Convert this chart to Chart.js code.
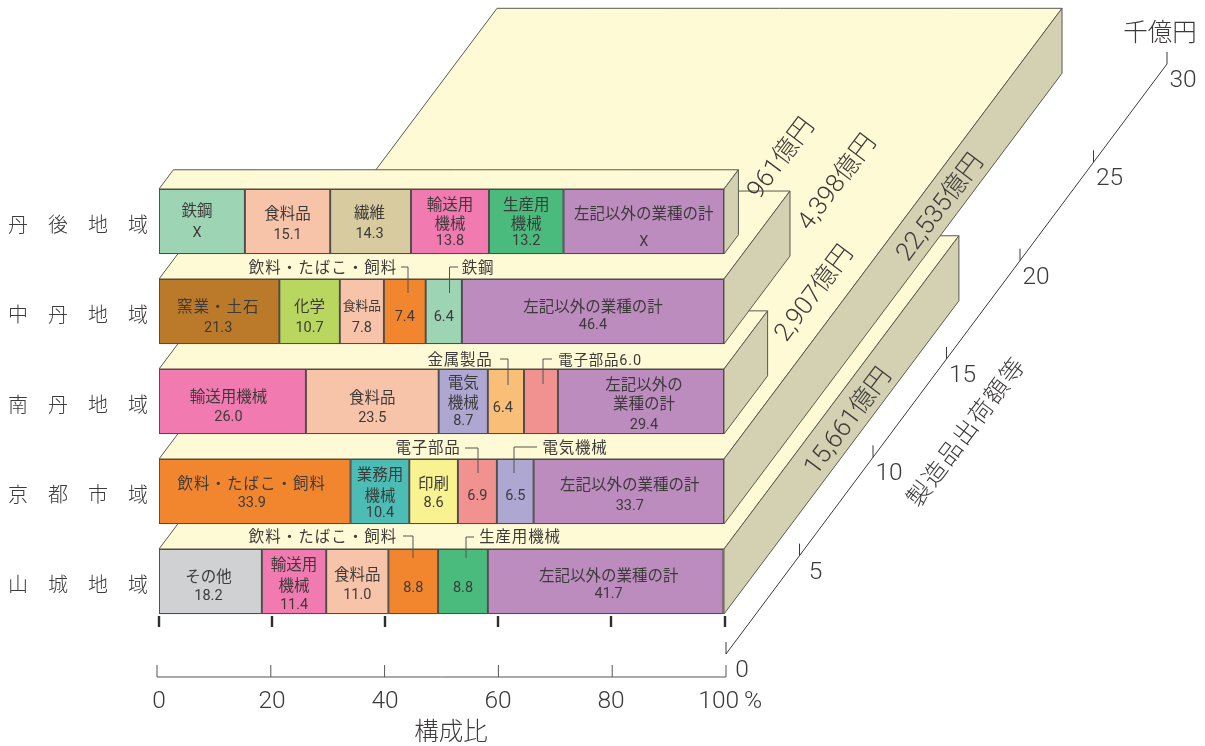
<!DOCTYPE html>
<html><head><meta charset="utf-8">
<style>html,body{margin:0;padding:0;background:#fff}canvas{display:block}</style>
<script src="https://cdn.jsdelivr.net/npm/chart.js@4"></script>
</head><body><canvas id="c" width="1205" height="746"></canvas>
<script>
const regions=['丹　後　地　域','中　丹　地　域','南　丹　地　域','京　都　市　域','山　城　地　域'];
const xTickValues=[0,20,40,60,80,100];
const depthTickValues=[0,5,10,15,20,25,30];
const shipments=[961,4398,2907,22535,15661];
const shipmentLabels=['961億円','4,398億円','2,907億円','22,535億円','15,661億円'];

const tangoNames=['鉄鋼','食料品','繊維','輸送用機械','生産用機械','左記以外'];
const tangoValues=[15.2,15.1,14.3,13.8,13.2,28.4];
const chutanNames=['窯業・土石','化学','食料品','飲料','鉄鋼','左記以外'];
const chutanValues=[21.3,10.7,7.8,7.4,6.4,46.4];
const nantanNames=['輸送用機械','食料品','電気機械','金属製品','電子部品','左記以外'];
const nantanValues=[26.0,23.5,8.7,6.4,6.0,29.4];
const kyotoNames=['飲料','業務用機械','印刷','電子部品','電気機械','左記以外'];
const kyotoValues=[33.9,10.4,8.6,6.9,6.5,33.7];
const yamashiroNames=['その他','輸送用機械','食料品','飲料','生産用機械','左記以外'];
const yamashiroValues=[18.2,11.4,11.0,8.8,8.8,41.7];

const tangoText=[['鉄鋼','X'],['食料品','15.1'],['繊維','14.3'],['輸送用','機械','13.8'],['生産用','機械','13.2'],['左記以外の業種の計','X']];
const chutanText=[['窯業・土石','21.3'],['化学','10.7'],['食料品','7.8'],['7.4'],['6.4'],['左記以外の業種の計','46.4']];
const nantanText=[['輸送用機械','26.0'],['食料品','23.5'],['電気','機械','8.7'],['6.4'],[],['左記以外の','業種の計','29.4']];
const kyotoText=[['飲料・たばこ・飼料','33.9'],['業務用','機械','10.4'],['印刷','8.6'],['6.9'],['6.5'],['左記以外の業種の計','33.7']];
const yamashiroText=[['その他','18.2'],['輸送用','機械','11.4'],['食料品','11.0'],['8.8'],['8.8'],['左記以外の業種の計','41.7']];

// presentation only, kept apart from the data
const colours={'鉄鋼':'#9dd4b4','食料品':'#f7c4aa','繊維':'#d8cba0','輸送用機械':'#f17ab0','生産用機械':'#4aba7d','左記以外':'#bc8cbf','窯業・土石':'#bb7a2a','化学':'#b9d75e','飲料':'#f2862f','金属製品':'#f9bf78','電子部品':'#f29290','電気機械':'#aea7d2','業務用機械':'#4cbdb4','印刷':'#f8f291','その他':'#cfd1d3'};
const textYOffsets=[
 [[21,42],[24,44],[23,43],[15,34,50],[15,34,50],[24,51]],
 [[27,47],[27,47],[26,47],[36],[36],[27,44]],
 [[27,46],[28,47],[13,33,50],[37],[],[15,34,54]],
 [[24,42],[15,36,52],[24,42],[35],[35],[25,45]],
 [[27,45],[15,36,54],[25,44],[37],[37],[26,43]]];
const textDx=[[-5,0,-1,0,0,0],[-1,0,0,0,0,0],[-4,0,0,-3,0,3],[-3,0,0,0,0,1],[-2,0,0,0,0,3]];
const callouts=[
 {t:'飲料・たばこ・飼料',tx:323,ty:267,path:[[401,267],[408,267],[408,293]]},
 {t:'鉄鋼',tx:478,ty:267,path:[[458,267],[449.5,267],[449.5,293]]},
 {t:'金属製品',tx:460,ty:359,path:[[500,359],[508,359],[508,385]]},
 {t:'電子部品6.0',tx:600,ty:359,path:[[552,359],[543,359],[543,384]]},
 {t:'電子部品',tx:428,ty:447,path:[[465,448],[478,448],[478,473]]},
 {t:'電気機械',tx:575,ty:447,path:[[537,447],[514,447],[514,473]]},
 {t:'飲料・たばこ・飼料',tx:323,ty:536,path:[[403,536],[413,536],[413,558]]},
 {t:'生産用機械',tx:520,ty:536,path:[[474,537],[466,537],[466,558]]}];
const shipmentLabelPos=[[782,157],[838,181],[815,292],[941,206],[849,420]];
const FONT='Roboto,"Noto Sans CJK JP","Noto Sans",sans-serif';
const TOP='#fffad6',SIDE='#d3d1b2',EDGE='#5a5a50',INK='#3d3a3a';
const BASELINE_NUDGE=2;

const allNames=[tangoNames,chutanNames,nantanNames,kyotoNames,yamashiroNames];
const allValues=[tangoValues,chutanValues,nantanValues,kyotoValues,yamashiroValues];
const allText=[tangoText,chutanText,nantanText,kyotoText,yamashiroText];
const datasets=[0,1,2,3,4,5].map(i=>({
  label:'区分'+(i+1),
  data:allValues.map(r=>r[i]),
  backgroundColor:allNames.map(r=>colours[r[i]]),
  borderColor:'#4f4c4c',borderWidth:1.3,borderSkipped:false,barThickness:65,stack:'s'
}));

function poly(ctx,pts,fill,stroke){
  ctx.beginPath();pts.forEach((p,i)=>i?ctx.lineTo(p[0],p[1]):ctx.moveTo(p[0],p[1]));ctx.closePath();
  ctx.fillStyle=fill;ctx.fill();ctx.strokeStyle=stroke;ctx.lineWidth=1;ctx.stroke();
}
function text(ctx,s,x,y,size,opts){
  opts=opts||{};ctx.save();ctx.translate(x,y+BASELINE_NUDGE);if(opts.rot)ctx.rotate(opts.rot);
  ctx.font=(opts.weight||300)+' '+size+'px '+FONT;ctx.fillStyle=opts.color||INK;ctx.textAlign=opts.align||'center';ctx.textBaseline='middle';
  ctx.letterSpacing=(opts.ls||0)+'px';ctx.fillText(s,0,0);ctx.restore();
}
const boxes={id:'boxes',beforeDatasetsDraw(ch){
  const {ctx,scales}=ch,x=scales.x,y=scales.y,dz=scales.depth;
  const half=65/2;
  for(let i=shipments.length-1;i>=0;i--){
    const dx=dz.getPixelForValue(shipments[i]/1000)-dz.getPixelForValue(0),dy=dx*4/3;
    const cy=y.getPixelForValue(i),t=cy-half,b=cy+half,l=x.getPixelForValue(0),r=x.getPixelForValue(100);
    poly(ctx,[[l,t],[r,t],[r+dx,t-dy],[l+dx,t-dy]],TOP,EDGE);
    poly(ctx,[[r,t],[r+dx,t-dy],[r+dx,b-dy],[r,b]],SIDE,EDGE);
  }
},afterDatasetsDraw(ch){
  const {ctx,scales}=ch,x=scales.x,y=scales.y,x2=scales.lower,dzA=scales.depthAxis;
  // segment labels
  allValues.forEach((vals,i)=>{
    let acc=0;const top=y.getPixelForValue(i)-65/2;
    vals.forEach((v,j)=>{
      const cx=x.getPixelForValue(acc+v/2)+textDx[i][j];acc+=v;
      allText[i][j].forEach((s,k)=>{
        const isNum=/^[\dX.]+$/.test(s);
        const small=i===1&&j===2&&!isNum;
        text(ctx,s,cx,top+textYOffsets[i][j][k],isNum?14.5:(small?12.8:15.5),{ls:s.includes('・')?1:0,weight:400});
      });
    });
  });
  // callouts
  callouts.forEach(c=>{
    ctx.beginPath();c.path.forEach((p,i)=>i?ctx.lineTo(p[0],p[1]):ctx.moveTo(p[0],p[1]));
    ctx.strokeStyle='#555';ctx.lineWidth=1;ctx.stroke();
    text(ctx,c.t,c.tx,c.ty,c.t.includes('6.0')?14.5:15.5,{ls:c.t.includes('・')?1:0.8,weight:400});
  });
  // shipment labels
  shipmentLabels.forEach((s,i)=>text(ctx,s,shipmentLabelPos[i][0],shipmentLabelPos[i][1],25.5,{rot:-53*Math.PI/180}));
  // heavy ticks under the bars
  ctx.strokeStyle='#2f2d2d';ctx.lineWidth=2.4;
  xTickValues.forEach(v=>{const p=x.getPixelForValue(v);ctx.beginPath();ctx.moveTo(p+(v===100?1:0),616);ctx.lineTo(p+(v===100?1:0),627);ctx.stroke();});
  // lower bracket axis
  ctx.strokeStyle='#555';ctx.lineWidth=1;
  ctx.beginPath();ctx.moveTo(x2.getPixelForValue(0),677);ctx.lineTo(x2.getPixelForValue(100),677);ctx.stroke();
  xTickValues.forEach(v=>{const p=x2.getPixelForValue(v);ctx.beginPath();ctx.moveTo(p,665);ctx.lineTo(p,677);ctx.stroke();});
  // depth axis
  const ox=726,oy=654,zero=dzA.getPixelForValue(0);
  const pt=v=>{const d=dzA.getPixelForValue(v)-zero;return [ox+d,oy-d*1.338];};
  ctx.strokeStyle='#3a3a3a';
  const a=pt(0),z=pt(30);
  ctx.beginPath();ctx.moveTo(a[0],a[1]);ctx.lineTo(z[0],z[1]);ctx.stroke();
  depthTickValues.forEach(v=>{
    const p=pt(v);ctx.beginPath();ctx.moveTo(p[0],p[1]);ctx.lineTo(p[0],p[1]-12);ctx.stroke();
    text(ctx,String(v),p[0]+16,p[1]+15,24.5);
  });
  text(ctx,'千億円',1160,33,24.5);
  text(ctx,'製造品出荷額等',968,431,24,{rot:-53*Math.PI/180,ls:1.7});
  text(ctx,'構成比',451,732,24.5);
}};
new Chart(document.getElementById('c'),{
  type:'bar',
  data:{labels:regions,datasets},
  plugins:[boxes],
  options:{
    indexAxis:'y',responsive:false,animation:false,
    layout:{padding:{left:0,right:481,top:176.5,bottom:0}},
    plugins:{legend:{display:false},tooltip:{enabled:false},title:{display:false}},
    scales:{
      x:{type:'linear',min:0,max:100,stacked:true,position:'bottom',
        border:{display:false},grid:{display:false},
        afterBuildTicks(s){s.ticks=xTickValues.map(v=>({value:v}));},
        afterFit(s){s.height=119.5;},
        ticks:{padding:53,maxRotation:0,autoSkip:false,color:INK,font:{family:FONT,size:24.5,weight:300},
          callback:v=>v===100?'\u2002100\u2009%':String(v)}},
      y:{type:'category',stacked:true,position:'left',
        border:{display:false},grid:{display:false},
        afterFit(s){s.width=159;},
        ticks:{padding:3,labelOffset:5,color:INK,font:{family:FONT,size:20,weight:300}}},
      depth:{type:'linear',axis:'x',display:false,min:0,max:565/15},
      depthAxis:{type:'linear',axis:'x',display:false,min:0,max:565/14.7},
      lower:{type:'linear',axis:'x',display:false,min:0.35,max:99.65}
    }
  }
});
</script></body></html>
